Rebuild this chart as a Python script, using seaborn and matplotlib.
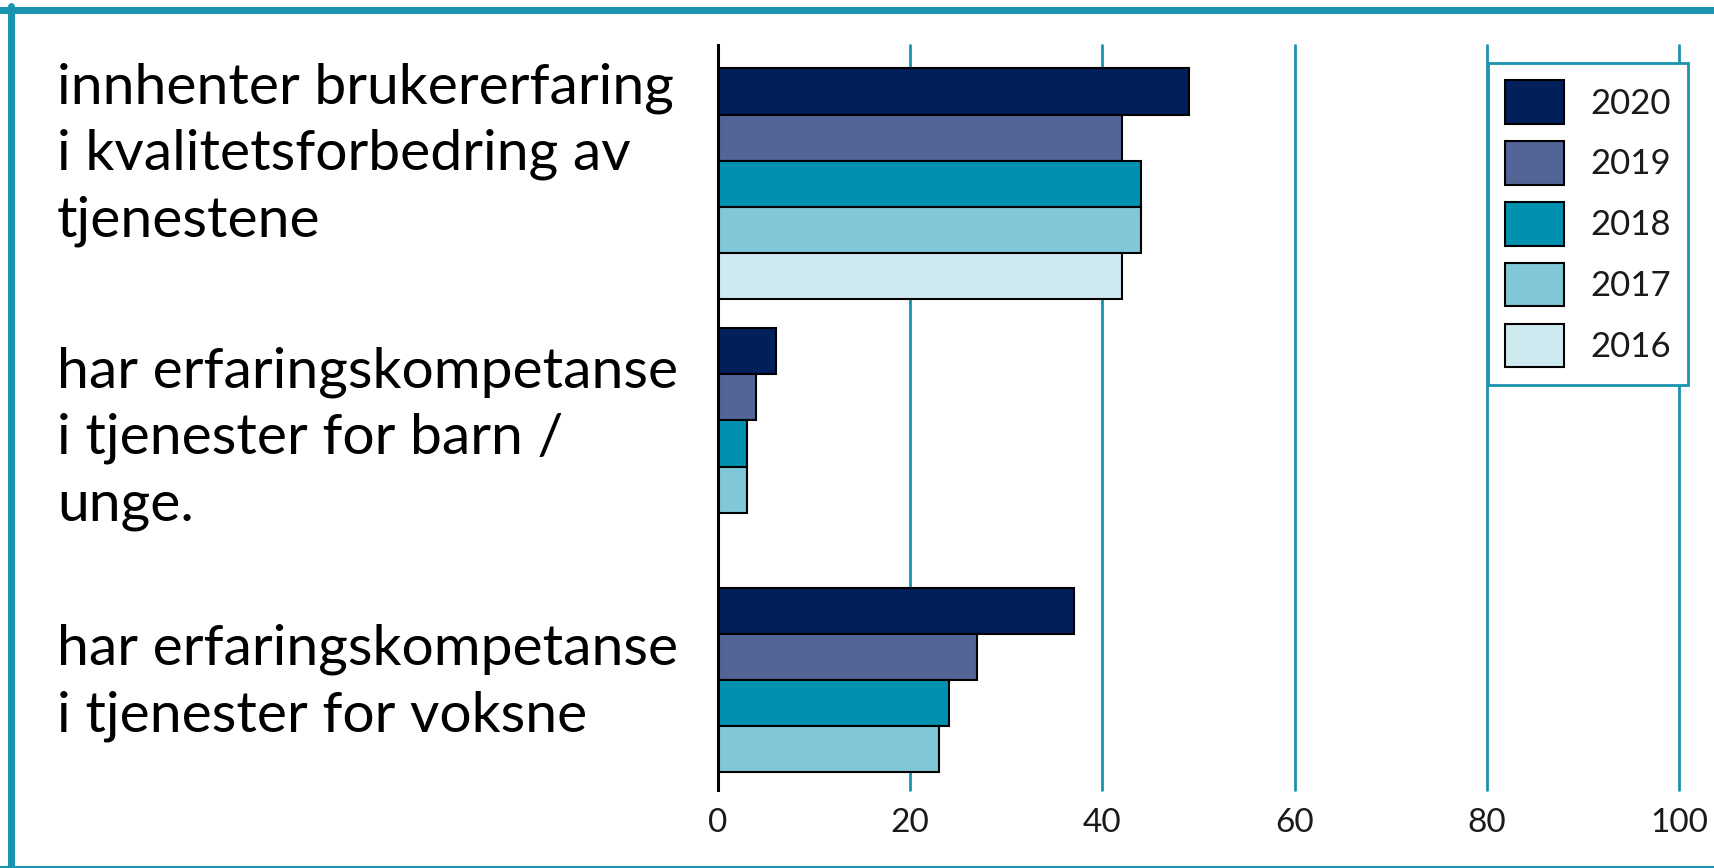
import matplotlib
matplotlib.use("Agg")
import matplotlib.pyplot as plt
import matplotlib.transforms as mtransforms
from matplotlib.lines import Line2D
import numpy as np
import pandas as pd
import seaborn as sns

# Data (percent)
categories = [
    "innhenter brukererfaring\ni kvalitetsforbedring av\ntjenestene",
    "har erfaringskompetanse\ni tjenester for barn /\nunge.",
    "har erfaringskompetanse\ni tjenester for voksne",
]
years = ["2020", "2019", "2018", "2017", "2016"]
v2020 = [49, 6, 37]
v2019 = [42, 4, 27]
v2018 = [44, 3, 24]
v2017 = [44, 3, 23]
v2016 = [42, np.nan, np.nan]
x_ticks = [0, 20, 40, 60, 80, 100]

colors = ["#011f5b", "#536496", "#0091b0", "#80c7d7", "#cfe9f0"]
teal = "#1a93ae"
# small upward nudges (px) for the category labels
label_nudge = [42, 18, 33]

rows = []
for year, vals in zip(years, [v2020, v2019, v2018, v2017, v2016]):
    for cat, v in zip(categories, vals):
        rows.append({"kategori": cat, "år": year, "andel": v})
df = pd.DataFrame(rows).dropna()

sns.set_style("white")
plt.rcParams["font.family"] = ["Lato", "DejaVu Sans"]

fig = plt.figure(figsize=(17.14, 8.68), dpi=100)
ax = fig.add_axes([718 / 1714, 1 - 790 / 868, (1679 - 718) / 1714, (790 - 45) / 868])

sns.barplot(data=df, y="kategori", x="andel", hue="år", hue_order=years,
            order=categories, palette=colors, saturation=1, orient="h",
            width=0.89, edgecolor="black", linewidth=1.5, errorbar=None, ax=ax)

ax.set_xlim(0, 100)
ax.set_ylim(2.335, -0.535)
ax.set_xticks(x_ticks)
ax.set_xlabel("")
ax.set_ylabel("")
ax.grid(axis="x", color=teal, linewidth=2)
ax.grid(axis="y", visible=False)
ax.set_axisbelow(True)
for gl in ax.get_xgridlines():
    gl.set_clip_on(False)

for side in ["top", "right", "bottom"]:
    ax.spines[side].set_visible(False)
ax.spines["left"].set_color("black")
ax.spines["left"].set_linewidth(2.2)

ax.tick_params(axis="x", length=0, pad=13, labelsize=24, labelcolor="#1a1a1a")
ax.tick_params(axis="y", length=0, pad=(718 - 57) * 0.72, labelsize=41,
               labelcolor="black")
for lab, dy in zip(ax.get_yticklabels(), label_nudge):
    lab.set_ha("left")
    lab.set_linespacing(1.37)
    shift = mtransforms.ScaledTranslation(0, dy / 100, fig.dpi_scale_trans)
    lab.set_transform(lab.get_transform() + shift)

handles, labels = ax.get_legend_handles_labels()
leg = ax.legend(handles, labels, loc="upper right",
                bbox_to_anchor=(1688 / 1714, 1 - 63 / 868),
                bbox_transform=fig.transFigure, borderaxespad=0,
                fontsize=25, handlelength=1.7, handleheight=1.55,
                labelspacing=0.5, handletextpad=0.75, borderpad=0.5,
                frameon=True, fancybox=False, framealpha=1)
leg.get_frame().set_edgecolor(teal)
leg.get_frame().set_linewidth(2)
for t in leg.get_texts():
    t.set_color("#1a1a1a")

# teal frame around the figure
fig.add_artist(Line2D([0, 1], [1 - 9.5 / 868] * 2, color=teal, linewidth=5,
                      transform=fig.transFigure))
fig.add_artist(Line2D([10.5 / 1714] * 2, [0, 1 - 6 / 868], color=teal, linewidth=5,
                      transform=fig.transFigure))
fig.add_artist(Line2D([0, 1], [1.5 / 868] * 2, color=teal, linewidth=1.5,
                      transform=fig.transFigure))

fig.savefig("out.png", dpi=100, facecolor="white")
